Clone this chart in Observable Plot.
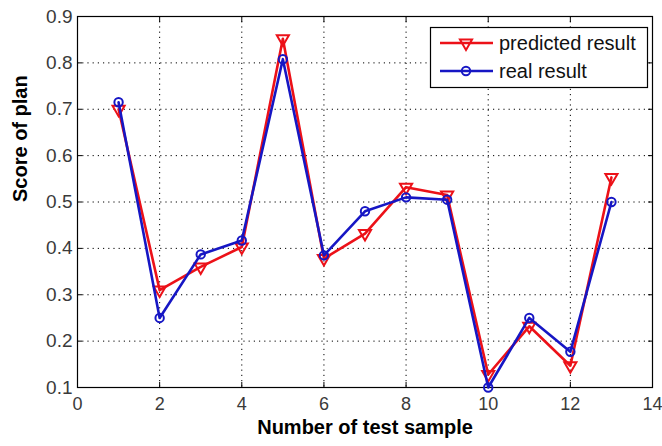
<!DOCTYPE html>
<html>
<head>
<meta charset="utf-8">
<script src="https://cdn.jsdelivr.net/npm/d3@7"></script>
<script src="https://cdn.jsdelivr.net/npm/@observablehq/plot@0.6"></script>
<style>
  html, body { margin: 0; padding: 0; background: #fff; }
  #chart svg { display: block; font-family: "Liberation Sans", Arial, sans-serif; }
</style>
</head>
<body>
<div id="chart"></div>
<script>
const samples = [1, 2, 3, 4, 5, 6, 7, 8, 9, 10, 11, 12, 13];
const predicted = [0.70, 0.31, 0.36, 0.403, 0.852, 0.378, 0.432, 0.532, 0.515, 0.128, 0.232, 0.147, 0.553];
const real = [0.715, 0.25, 0.387, 0.417, 0.808, 0.385, 0.48, 0.51, 0.505, 0.10, 0.25, 0.177, 0.50];
const xTicks = [0, 2, 4, 6, 8, 10, 12, 14];
const yTicks = [0.1, 0.2, 0.3, 0.4, 0.5, 0.6, 0.7, 0.8, 0.9];
const seriesNames = ["predicted result", "real result"];
const seriesColors = ["#ec1118", "#1616c4"];

const predRows = samples.map((s, i) => ({x: s, y: predicted[i]}));
const realRows = samples.map((s, i) => ({x: s, y: real[i]}));

const chart = Plot.plot({
  width: 662,
  height: 446,
  marginLeft: 77,
  marginRight: 10,
  marginTop: 16,
  marginBottom: 59,
  style: {fontFamily: "Liberation Sans, Arial, sans-serif", background: "#fff"},
  x: {domain: [0, 14]},
  y: {domain: [0.1, 0.9]},
  marks: [
    Plot.gridX(xTicks, {stroke: "#000", strokeOpacity: 1, strokeDasharray: "1.2,4"}),
    Plot.gridY(yTicks, {stroke: "#000", strokeOpacity: 1, strokeDasharray: "1.2,4"}),
    Plot.axisX({ticks: xTicks, tickSize: 0, tickPadding: 10, label: null, tickFormat: d => String(d), fontSize: 18, fill: "#3a3a3a"}),
    Plot.axisY({ticks: yTicks, tickSize: 0, tickPadding: 5, label: null, tickFormat: d => d.toFixed(1), fontSize: 19, fill: "#3a3a3a"}),
    Plot.axisX({ticks: xTicks, anchor: "bottom", tickSize: -5, label: null, tickFormat: () => ""}),
    Plot.axisX({ticks: xTicks, anchor: "top", tickSize: -5, label: null, tickFormat: () => ""}),
    Plot.axisY({ticks: yTicks, anchor: "left", tickSize: -5, label: null, tickFormat: () => ""}),
    Plot.axisY({ticks: yTicks, anchor: "right", tickSize: -5, label: null, tickFormat: () => ""}),
    Plot.frame({stroke: "#000", strokeWidth: 1.2}),
    Plot.line(predRows, {x: "x", y: "y", stroke: seriesColors[0], strokeWidth: 2.6}),
    Plot.dot(predRows, {x: "x", y: "y", symbol: "triangle", rotate: 180, r: 4.5, stroke: seriesColors[0], strokeWidth: 2, fill: "none"}),
    Plot.line(realRows, {x: "x", y: "y", stroke: seriesColors[1], strokeWidth: 2.6}),
    Plot.dot(realRows, {x: "x", y: "y", symbol: "circle", r: 4.2, stroke: seriesColors[1], strokeWidth: 2, fill: "none"}),
    Plot.text(["Number of test sample"], {frameAnchor: "bottom", dy: 46, fontSize: 20, fontWeight: "bold", fill: "#000"}),
    Plot.text(["Score of plan"], {frameAnchor: "left", dx: -57, rotate: -90, fontSize: 20, fontWeight: "bold", fill: "#000"})
  ]
});

// Legend box (inside the plot, top right)
const svg = d3.select(chart);
const lg = svg.append("g").attr("aria-label", "legend")
  .style("font-family", "Liberation Sans, Arial, sans-serif")
  .style("text-anchor", "start");
lg.append("rect").attr("x", 430.5).attr("y", 27.5).attr("width", 217).attr("height", 60)
  .attr("fill", "#fff").attr("stroke", "#000").attr("stroke-width", 1.2);
const rowsY = [43, 71];
const symbols = [d3.symbolTriangle, d3.symbolCircle];
const sizes = [Math.PI * 4.5 * 4.5, Math.PI * 4.2 * 4.2];
seriesNames.forEach((name, i) => {
  const y = rowsY[i];
  lg.append("line").attr("x1", 440).attr("x2", 493).attr("y1", y).attr("y2", y)
    .attr("stroke", seriesColors[i]).attr("stroke-width", 2.6);
  lg.append("path").attr("d", d3.symbol(symbols[i], sizes[i])())
    .attr("transform", `translate(466,${y})` + (i === 0 ? " rotate(180)" : ""))
    .attr("fill", "none").attr("stroke", seriesColors[i]).attr("stroke-width", 2);
  lg.append("text").attr("x", 499).attr("y", y).attr("dy", "0.35em")
    .style("font-size", "20px").style("text-anchor", "start").attr("fill", "#111").text(name);
});

document.getElementById("chart").appendChild(chart);
</script>
</body>
</html>
